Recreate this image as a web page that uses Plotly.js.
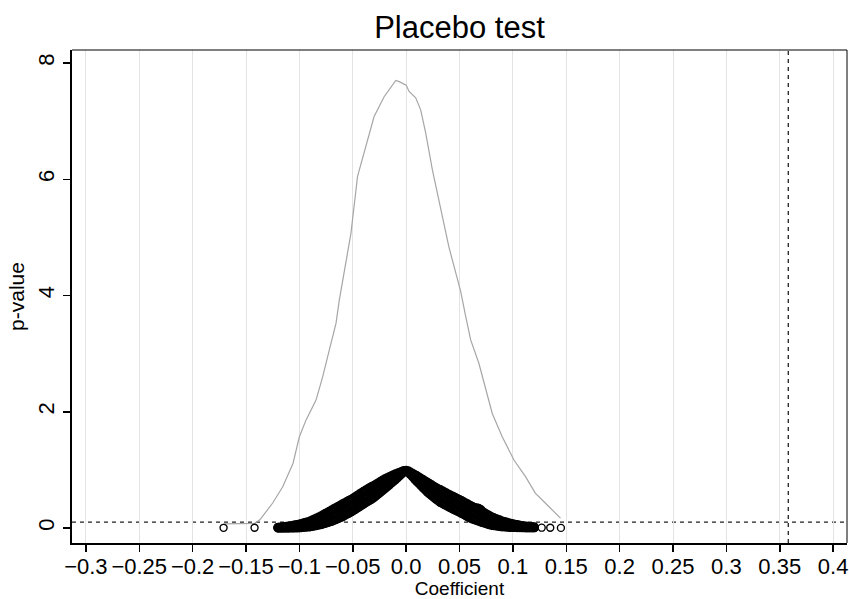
<!DOCTYPE html>
<html><head><meta charset="utf-8">
<script src="https://cdn.plot.ly/plotly-3.0.1.min.js"></script>
<style>html,body{margin:0;padding:0;background:#fff}#chart{width:849px;height:599px}</style>
</head><body><div id="chart"></div>
<script>
// Kernel density of placebo coefficients (gray line)
const densX = [-0.171,-0.142,-0.137,-0.125,-0.1156,-0.106,-0.100,-0.0937,-0.0844,-0.0782,-0.072,-0.0657,-0.0626,-0.061,-0.0517,-0.0455,-0.0393,-0.030,-0.0206,-0.0097,-0.0065,-0.0034,0.0,0.0028,0.009,0.0137,0.0184,0.0246,0.0293,0.034,0.040,0.0449,0.0511,0.0558,0.0604,0.0682,0.0745,0.0807,0.090,0.101,0.112,0.121,0.1336,0.1446];
const densY = [0.07,0.08,0.14,0.43,0.71,1.11,1.57,1.86,2.20,2.60,3.06,3.52,3.92,4.10,5.07,6.05,6.48,7.08,7.42,7.70,7.68,7.65,7.62,7.51,7.40,7.19,6.79,6.16,5.76,5.30,4.84,4.50,4.07,3.64,3.24,2.83,2.38,1.97,1.57,1.17,0.88,0.60,0.37,0.17];

// Placebo coefficients and their p-values (hollow circles)
const coefLeft = [-0.120,-0.118,-0.116,-0.114,-0.112,-0.110,-0.108,-0.106,-0.104,-0.102,
 -0.100,-0.098,-0.096,-0.094,-0.092,-0.090,-0.088,-0.086,-0.084,-0.082,
 -0.080,-0.078,-0.076,-0.074,-0.072,-0.070,-0.068,-0.066,-0.064,-0.062,
 -0.060,-0.058,-0.056,-0.054,-0.052,-0.050,-0.048,-0.046,-0.044,-0.042,
 -0.040,-0.038,-0.036,-0.034,-0.032,-0.030,-0.028,-0.026,-0.024,-0.022,
 -0.020,-0.018,-0.016,-0.014,-0.012,-0.010,-0.008,-0.006,-0.004,-0.002];
const pLeftUpper = [.011,.015,.019,.022,.026,.029,.036,.043,.051,.057,
 .065,.076,.085,.096,.106,.118,.135,.152,.168,.185,
 .202,.223,.244,.264,.285,.306,.326,.347,.367,.388,
 .408,.428,.448,.468,.488,.508,.532,.556,.580,.604,
 .628,.650,.672,.694,.716,.732,.754,.777,.799,.822,
 .844,.861,.878,.894,.911,.928,.942,.957,.971,.986];
const pLeftMid = [.005,.007,.009,.011,.013,.015,.019,.023,.027,.031,
 .035,.042,.049,.056,.063,.070,.082,.094,.106,.118,
 .130,.146,.162,.178,.194,.210,.228,.246,.264,.282,
 .300,.320,.340,.360,.380,.400,.424,.448,.472,.496,
 .520,.542,.564,.586,.608,.630,.656,.682,.708,.734,
 .760,.784,.808,.832,.856,.880,.904,.928,.952,.976];
const pLeftLower = [.001,.001,.001,.001,.001,.001,.002,.003,.003,.005,
 .005,.008,.013,.016,.020,.022,.029,.036,.044,.051,
 .058,.069,.080,.092,.103,.114,.130,.145,.161,.176,
 .192,.212,.232,.252,.272,.292,.316,.340,.364,.388,
 .412,.434,.456,.478,.500,.528,.558,.587,.617,.646,
 .676,.707,.738,.770,.801,.832,.866,.899,.933,.966];
const coefRight = [0.002,0.004,0.006,0.008,0.010,0.012,0.014,0.016,0.018,0.020,
 0.022,0.024,0.026,0.028,0.030,0.032,0.034,0.036,0.038,0.040,
 0.042,0.044,0.046,0.048,0.050,0.052,0.054,0.056,0.058,0.060,
 0.062,0.064,0.066,0.068,0.070,0.072,0.074,0.076,0.078,0.080,
 0.082,0.084,0.086,0.088,0.090,0.092,0.094,0.096,0.098,0.100,
 0.102,0.104,0.106,0.108,0.110,0.112,0.114,0.116,0.118,0.120];
const pRightUpper = [.980,.959,.939,.918,.898,.875,.852,.830,.807,.784,
 .762,.739,.717,.694,.672,.658,.638,.618,.598,.578,
 .560,.542,.524,.506,.488,.468,.448,.428,.408,.388,
 .370,.351,.345,.335,.315,.275,.254,.234,.213,.192,
 .177,.162,.148,.133,.118,.107,.098,.088,.080,.070,
 .062,.056,.048,.041,.034,.031,.027,.024,.020,.016];
const pRightMid = [.970,.940,.910,.880,.850,.820,.790,.760,.730,.700,
 .674,.648,.622,.596,.570,.550,.530,.510,.490,.470,
 .452,.434,.416,.398,.380,.360,.340,.320,.300,.280,
 .264,.248,.232,.216,.200,.184,.168,.152,.136,.120,
 .110,.100,.090,.080,.070,.064,.058,.052,.046,.040,
 .036,.032,.028,.024,.020,.018,.016,.014,.012,.010];
const pRightLower = [.960,.921,.881,.842,.802,.765,.728,.690,.653,.616,
 .586,.557,.527,.498,.468,.442,.422,.402,.382,.362,
 .344,.326,.308,.290,.272,.252,.232,.212,.192,.172,
 .158,.145,.131,.118,.104,.093,.082,.070,.059,.048,
 .043,.038,.032,.027,.022,.021,.018,.016,.012,.010,
 .010,.008,.008,.007,.006,.005,.005,.004,.004,.004];
const coefOther = [-0.171,-0.142,0.0,0.127,0.135,0.145];
const pOther = [0.003,0.004,1.0,0.006,0.004,0.002];

// Axis ticks
const xTickVals = [-0.3,-0.25,-0.2,-0.15,-0.1,-0.05,0,0.05,0.1,0.15,0.2,0.25,0.3,0.35,0.4];
const xTickText = ["\u22120.3","\u22120.25","\u22120.2","\u22120.15","\u22120.1","\u22120.05","0.0","0.05","0.1","0.15","0.2","0.25","0.3","0.35","0.4"];
const yTickVals = [0,2,4,6,8];
const actualCoef = 0.358;
const pThreshold = 0.1;

const bandCoef = [].concat(coefLeft, coefLeft, coefLeft, coefRight, coefRight, coefRight);
const bandP = [].concat(pLeftUpper, pLeftMid, pLeftLower, pRightUpper, pRightMid, pRightLower);

const font = "Liberation Sans, Arial, sans-serif";
const data = [
  {x: densX, y: densY, type: 'scatter', mode: 'lines', line: {color: '#a6a6a6', width: 1.2}, hoverinfo: 'skip'},
  {x: bandCoef, y: bandP, type: 'scatter', mode: 'markers',
   marker: {symbol: 'circle-open', size: 7, color: '#000', line: {width: 2.4, color: '#000'}}},
  {x: coefOther, y: pOther, type: 'scatter', mode: 'markers',
   marker: {symbol: 'circle-open', size: 7, color: '#000', line: {width: 1.4, color: '#000'}}}
];
const layout = {
  width: 849, height: 599,
  margin: {l: 72, r: 2, t: 50, b: 56},
  paper_bgcolor: '#fff', plot_bgcolor: '#fff',
  showlegend: false,
  font: {family: font, color: '#000'},
  title: {text: 'Placebo test', font: {size: 31, family: font, color: '#000'}, x: 0.5, xref: 'paper', y: 0.955, yref: 'container', yanchor: 'middle'},
  xaxis: {range: [-0.313, 0.413], tickvals: xTickVals, ticktext: xTickText,
    showgrid: true, gridcolor: '#e3e3e3', gridwidth: 1, zeroline: false,
    showline: true, linecolor: '#000', linewidth: 2, ticks: 'outside', ticklen: 7, tickwidth: 1.5, tickcolor: '#000',
    tickfont: {size: 22, family: font}, ticklabelstandoff: -4,
    title: {text: 'Coefficient', font: {size: 19, family: font}, standoff: 7}},
  yaxis: {range: [-0.258, 8.224], tickvals: yTickVals, tickangle: -90,
    showgrid: false, zeroline: false,
    showline: true, linecolor: '#000', linewidth: 2, ticks: 'outside', ticklen: 7, tickwidth: 1.5, tickcolor: '#000',
    tickfont: {size: 22, family: font},
    title: {text: 'p-value', font: {size: 21, family: font}, standoff: 4}},
  shapes: [
    {type: 'line', xref: 'paper', yref: 'paper', x0: 0, x1: 1, y0: 1, y1: 1, line: {color: '#000', width: 1}},
    {type: 'line', xref: 'paper', yref: 'paper', x0: 1, x1: 1, y0: 0, y1: 1, line: {color: '#000', width: 1}},
    {type: 'line', xref: 'x', yref: 'paper', x0: actualCoef, x1: actualCoef, y0: 0, y1: 1, layer: 'between', line: {color: '#222', width: 1.3, dash: '4px,4px'}},
    {type: 'line', xref: 'paper', yref: 'y', x0: 0, x1: 1, y0: pThreshold, y1: pThreshold, layer: 'between', line: {color: '#222', width: 1.3, dash: '4px,4px'}}
  ]
};
Plotly.newPlot('chart', data, layout, {staticPlot: true});
</script></body></html>
